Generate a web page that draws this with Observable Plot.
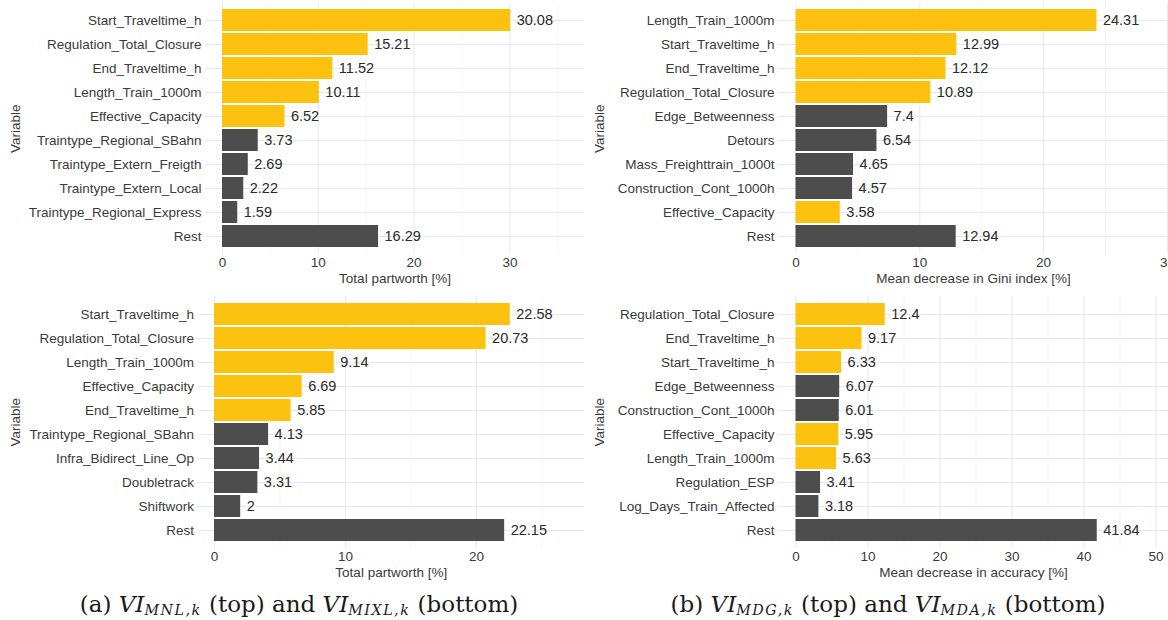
<!DOCTYPE html>
<html><head><meta charset="utf-8">
<script src="https://cdn.jsdelivr.net/npm/d3@7"></script>
<script src="https://cdn.jsdelivr.net/npm/@observablehq/plot@0.6"></script>
<style>
html,body{margin:0;padding:0;background:#fff;overflow:hidden}
#root{position:relative;width:1168px;height:620px;overflow:hidden;background:#fff}
.panel{position:absolute;width:584px;overflow:hidden}
.panel svg{max-width:none;display:block}
.cap{position:absolute;font-family:"DejaVu Serif","Liberation Serif",serif;font-size:23px;color:#1a1a1a;white-space:nowrap;transform:translate(-50%,-50%);line-height:1}
.cap i{font-style:italic}
.cap sub{font-size:0.62em;font-style:italic;letter-spacing:1.5px;vertical-align:-0.25em}
</style></head><body><div id="root"></div>
<script>
// ---- data ----
const highlighted = ["Start_Traveltime_h","Regulation_Total_Closure","End_Traveltime_h","Length_Train_1000m","Effective_Capacity"];

const mnlVariables = ["Start_Traveltime_h","Regulation_Total_Closure","End_Traveltime_h","Length_Train_1000m","Effective_Capacity","Traintype_Regional_SBahn","Traintype_Extern_Freigth","Traintype_Extern_Local","Traintype_Regional_Express","Rest"];
const mnlValues = [30.08,15.21,11.52,10.11,6.52,3.73,2.69,2.22,1.59,16.29];
const mnlTicks = [0,10,20,30];

const mdgVariables = ["Length_Train_1000m","Start_Traveltime_h","End_Traveltime_h","Regulation_Total_Closure","Edge_Betweenness","Detours","Mass_Freighttrain_1000t","Construction_Cont_1000h","Effective_Capacity","Rest"];
const mdgValues = [24.31,12.99,12.12,10.89,7.4,6.54,4.65,4.57,3.58,12.94];
const mdgTicks = [0,10,20,30];

const mixlVariables = ["Start_Traveltime_h","Regulation_Total_Closure","Length_Train_1000m","Effective_Capacity","End_Traveltime_h","Traintype_Regional_SBahn","Infra_Bidirect_Line_Op","Doubletrack","Shiftwork","Rest"];
const mixlValues = [22.58,20.73,9.14,6.69,5.85,4.13,3.44,3.31,2,22.15];
const mixlTicks = [0,10,20];

const mdaVariables = ["Regulation_Total_Closure","End_Traveltime_h","Start_Traveltime_h","Edge_Betweenness","Construction_Cont_1000h","Effective_Capacity","Length_Train_1000m","Regulation_ESP","Log_Days_Train_Affected","Rest"];
const mdaValues = [12.4,9.17,6.33,6.07,6.01,5.95,5.63,3.41,3.18,41.84];
const mdaTicks = [0,10,20,30,40,50];

const xLabels = ["Total partworth [%]","Mean decrease in Gini index [%]","Total partworth [%]","Mean decrease in accuracy [%]"];
const yLabel = "Variable";

// ---- style ----
const YELLOW = "#FDC20F", GREY = "#4D4D4D";
const root = document.getElementById("root");

function panel(vars, vals, ticks, xLabel, L) {
  const data = vars.map((v, i) => ({variable: v, value: vals[i]}));
  const k = L.pxPerUnit;
  const domain = [(L.marginLeft - L.zeroPx) / k, (L.width - L.zeroPx) / k];
  const minor = ticks.map(t => t + 5).filter(t => t < domain[1]);
  const chart = Plot.plot({
    width: L.width, height: L.height,
    marginLeft: L.marginLeft, marginRight: 0, marginTop: L.marginTop, marginBottom: L.marginBottom,
    style: {fontFamily: "'Liberation Sans', Arial, sans-serif", fontSize: "13.5px", color: "#3a3a3a", background: "#fff"},
    x: {domain, label: null},
    y: {domain: vars, paddingInner: 0.1, paddingOuter: 0.15, label: null},
    marks: [
      Plot.gridX(minor, {stroke: "#EFEFEF", strokeOpacity: 1, strokeWidth: 0.6}),
      Plot.gridX(ticks, {stroke: "#E8E8E8", strokeOpacity: 1, strokeWidth: 1}),
      Plot.gridY({stroke: "#E8E8E8", strokeOpacity: 1, strokeWidth: 1}),
      Plot.barX(data, {x: "value", y: "variable", fill: d => highlighted.includes(d.variable) ? YELLOW : GREY}),
      Plot.text(data, {x: "value", y: "variable", text: d => String(d.value), textAnchor: "start", dx: 6, fill: "#2a2a2a", fontSize: 14.5}),
      Plot.axisY({tickSize: 0, tickPadding: 4, label: yLabel, labelAnchor: "center", labelOffset: L.marginLeft - 10, fontSize: 13.5}),
      Plot.axisX({ticks, tickSize: 0, tickPadding: 3, tickFormat: d => String(d), label: xLabel, labelAnchor: "center", labelArrow: "none", labelOffset: L.labelOffset, fontSize: 13.5})
    ]
  });
  const div = document.createElement("div");
  div.className = "panel";
  div.style.left = L.left + "px";
  div.style.top = L.top + "px";
  div.style.height = L.height + "px";
  div.appendChild(chart);
  root.appendChild(div);
}

panel(mnlVariables, mnlValues, mnlTicks, xLabels[0], {left: 0, top: 0, width: 584, height: 290, marginLeft: 205, marginTop: 2.5, marginBottom: 36, zeroPx: 222, pxPerUnit: 9.58, labelOffset: 28});
panel(mdgVariables, mdgValues, mdgTicks, xLabels[1], {left: 584, top: 0, width: 584, height: 290, marginLeft: 194, marginTop: 2.5, marginBottom: 36, zeroPx: 211.5, pxPerUnit: 12.38, labelOffset: 28});
panel(mixlVariables, mixlValues, mixlTicks, xLabels[2], {left: 0, top: 290, width: 584, height: 296, marginLeft: 197.5, marginTop: 6, marginBottom: 38.5, zeroPx: 214, pxPerUnit: 13.1, labelOffset: 29});
panel(mdaVariables, mdaValues, mdaTicks, xLabels[3], {left: 584, top: 290, width: 584, height: 296, marginLeft: 194, marginTop: 6, marginBottom: 38.5, zeroPx: 211.5, pxPerUnit: 7.2, labelOffset: 29});

// ---- captions ----
const captions = [
  {x: 299, html: "(a) <i>VI</i><sub>MNL,k</sub> (top) and <i>VI</i><sub>MIXL,k</sub> (bottom)"},
  {x: 888, html: "(b) <i>VI</i><sub>MDG,k</sub> (top) and <i>VI</i><sub>MDA,k</sub> (bottom)"}
];
captions.forEach(c => {
  const d = document.createElement("div");
  d.className = "cap";
  d.style.left = c.x + "px";
  d.style.top = "605px";
  d.innerHTML = c.html;
  root.appendChild(d);
});
</script></body></html>
